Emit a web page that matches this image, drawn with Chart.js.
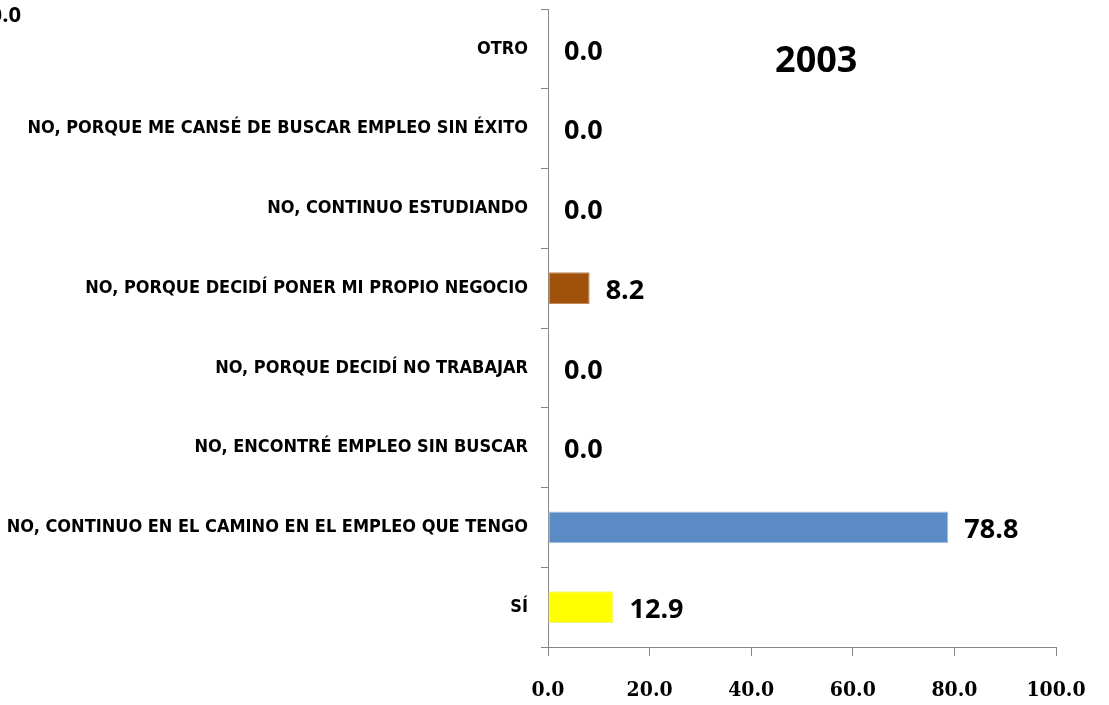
<!DOCTYPE html>
<html>
<head>
<meta charset="utf-8">
<script src="https://cdn.jsdelivr.net/npm/chart.js@4/dist/chart.umd.min.js"></script>
<style>
  html, body { margin: 0; padding: 0; background: #fff; overflow: hidden; }
</style>
</head>
<body>
<canvas id="c" width="1109" height="705" style="width:1109px;height:705px;display:block"></canvas>
<script>
const categories = [
  "OTRO",
  "NO, PORQUE ME CANSÉ DE BUSCAR EMPLEO SIN ÉXITO",
  "NO, CONTINUO ESTUDIANDO",
  "NO, PORQUE DECIDÍ PONER MI PROPIO NEGOCIO",
  "NO, PORQUE DECIDÍ NO TRABAJAR",
  "NO, ENCONTRÉ EMPLEO SIN BUSCAR",
  "NO, CONTINUO EN EL CAMINO EN EL EMPLEO QUE TENGO",
  "SÍ"
];
const values = [0.0, 0.0, 0.0, 8.2, 0.0, 0.0, 78.8, 12.9];
const barColors = ["#7f7f7f", "#7f7f7f", "#7f7f7f", "#a0510b", "#7f7f7f", "#7f7f7f", "#5b8bc5", "#ffff00"];
const barEdges = ["#7f7f7f", "#7f7f7f", "#7f7f7f", "#c08a5c", "#7f7f7f", "#7f7f7f", "#a9c1e0", "#f2f28a"];
const xTicks = [0, 20, 40, 60, 80, 100];
const chartTitle = "2003";

const labelFont = "'Liberation Sans Narrow', 'DejaVu Sans Condensed', sans-serif";
const numberFont = "'Open Sans', sans-serif";

const valueLabels = {
  id: "valueLabels",
  afterDatasetsDraw(chart) {
    const ctx = chart.ctx;
    const meta = chart.getDatasetMeta(0);
    ctx.save();
    ctx.fillStyle = "#000";
    ctx.font = "bold 27px " + numberFont;
    ctx.textAlign = "left";
    ctx.textBaseline = "middle";
    meta.data.forEach((bar, i) => {
      ctx.fillText(values[i].toFixed(1), bar.x + 16, bar.y + 3);
    });
    ctx.restore();
  }
};

const extraText = {
  id: "extraText",
  afterDraw(chart) {
    const ctx = chart.ctx;
    const area = chart.chartArea;
    ctx.save();
    ctx.fillStyle = "#000";
    ctx.font = "bold 36px " + numberFont;
    ctx.textAlign = "center";
    ctx.textBaseline = "middle";
    ctx.fillText(chartTitle, area.left + (area.right - area.left) * 0.528, 62);
    // clipped label from a neighbouring chart at the top-left corner
    ctx.font = "bold 22px " + numberFont;
    ctx.textAlign = "right";
    ctx.textBaseline = "alphabetic";
    ctx.fillText("0.0", 21, 22);
    ctx.restore();
  }
};

new Chart(document.getElementById("c"), {
  type: "bar",
  data: {
    labels: categories,
    datasets: [{
      data: values,
      backgroundColor: barColors,
      borderColor: barEdges,
      borderWidth: values.map(v => (v === 0 ? 0 : 1)),
      borderSkipped: false,
      barPercentage: 0.4,
      categoryPercentage: 1
    }]
  },
  options: {
    indexAxis: "y",
    responsive: false,
    animation: false,
    devicePixelRatio: 1,
    layout: { padding: { top: 9, right: 53, left: 0, bottom: 0 } },
    plugins: {
      legend: { display: false },
      tooltip: { enabled: false }
    },
    scales: {
      x: {
        min: 0,
        max: 100,
        afterBuildTicks(scale) { scale.ticks = xTicks.map(v => ({ value: v })); },
        afterFit(scale) {
          scale.height = 58;
          scale.paddingLeft = 0;
          scale.paddingRight = 0;
        },
        border: { color: "#868686", width: 1 },
        grid: { drawOnChartArea: false, color: "#868686", tickLength: 9 },
        ticks: {
          color: "#000",
          padding: 22,
          maxRotation: 0,
          font: { family: "'DejaVu Serif Condensed', 'DejaVu Serif', serif", weight: "bold", size: 21 },
          callback: v => Number(v).toFixed(1)
        }
      },
      y: {
        afterFit(scale) {
          scale.width = 548;
          scale.paddingTop = 0;
          scale.paddingBottom = 0;
        },
        border: { color: "#868686", width: 1 },
        grid: { offset: true, drawOnChartArea: false, color: "#868686", tickLength: 7 },
        ticks: {
          color: "#000",
          padding: 13,
          font: { family: labelFont, weight: "bold", size: 18 }
        }
      }
    }
  },
  plugins: [valueLabels, extraText]
});
</script>
</body>
</html>
